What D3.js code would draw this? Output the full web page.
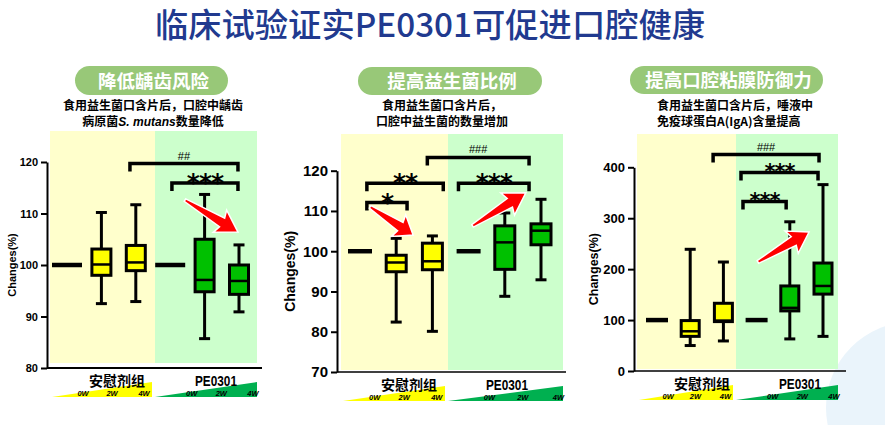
<!DOCTYPE html>
<html>
<head>
<meta charset="utf-8">
<script src="https://cdnjs.cloudflare.com/ajax/libs/d3/7.8.5/d3.min.js"></script>
<style>
  body { margin: 0; background: #fff; }
  svg { display: block; }
  .cjk { font-family: "Noto Sans CJK SC", sans-serif; }
  .num { font-family: "Liberation Sans", Arial, sans-serif; font-weight: bold; }
  .axis path, .axis line { stroke: #000; }
  .axis text { font-family: "Liberation Sans", Arial, sans-serif; font-weight: bold; fill: #000; }
</style>
</head>
<body>
<div id="chart"></div>
<script>
// ---------- data ----------
var mainTitle = "临床试验证实PE0301可促进口腔健康";
var groups = ["安慰剂组", "PE0301"];
var weeks = ["0W", "2W", "4W"];
var yLabel = "Changes(%)";

// box stats per column: [min, q1, median, q3, max]
var cariesBoxes = [
  [100, 100, 100, 100, 100],
  [92.5, 98.0, 100.1, 103.1, 110.2],
  [92.9, 98.9, 100.5, 103.8, 111.7],
  [100, 100, 100, 100, 100],
  [85.7, 94.8, 97.1, 105.0, 113.7],
  [90.9, 94.3, 96.9, 100.0, 103.9]
];
var probioticBoxes = [
  [100, 100, 100, 100, 100],
  [82.4, 94.9, 97.2, 99.0, 103.2],
  [80.1, 95.4, 97.5, 102.0, 103.8],
  [100, 100, 100, 100, 100],
  [88.8, 95.5, 102.2, 106.3, 109.5],
  [92.9, 101.6, 105.1, 106.8, 112.9]
];
var igaBoxes = [
  [100, 100, 100, 100, 100],
  [50, 68, 78, 99, 239],
  [59, 97, 99, 133, 214],
  [100, 100, 100, 100, 100],
  [63, 118, 124, 167, 293],
  [68, 151, 167, 212, 366]
];

var cariesTicks = [80, 90, 100, 110, 120];
var probioticTicks = [70, 80, 90, 100, 110, 120];
var igaTicks = [0, 100, 200, 300, 400];

// significance brackets: column positions and level in data units
var cariesMarks = [
  { from: 1.83, to: 4.97, level: 119.7, label: "##" },
  { from: 3.05, to: 4.97, level: 115.9, label: "***" }
];
var probioticMarks = [
  { from: 0.19, to: 1.3, level: 112.1, label: "*" },
  { from: 0.19, to: 2.3, level: 116.9, label: "**" },
  { from: 1.86, to: 4.67, level: 123.3, label: "###" },
  { from: 2.72, to: 4.67, level: 116.9, label: "***" }
];
var igaMarks = [
  { from: 1.69, to: 4.88, level: 425, label: "###" },
  { from: 2.53, to: 4.85, level: 390, label: "***" },
  { from: 2.59, to: 3.89, level: 333, label: "***" }
];

// red trend arrows: [fromCol, fromValue, toCol, toValue]
var cariesArrows = [[3.43, 112.6, 4.97, 106.4]];
var probioticArrows = [[0.28, 111.0, 1.47, 104.0], [3.11, 106.3, 4.58, 114.5]];
var igaArrows = [[3.04, 214, 4.58, 273]];

var cariesTitle = "降低龋齿风险";
var probioticTitle = "提高益生菌比例";
var igaTitle = "提高口腔粘膜防御力";
var cariesSub = [[["食用益生菌口含片后，口腔中龋齿", false]], [["病原菌", false], ["S.  mutans", true], ["数量降低", false]]];
var probioticSub = [[["食用益生菌口含片后，", false]], [["口腔中益生菌的数量增加", false]]];
var igaSub = [[["食用益生菌口含片后，唾液中", false]], [["免疫球蛋白A(IgA)含量提高", false]]];

// ---------- layout ----------
var panels = [
  { title: cariesTitle, sub: cariesSub, boxes: cariesBoxes, ticks: cariesTicks, marks: cariesMarks, arrows: cariesArrows,
    pill: [75, 228, 66, 95], subX: 153, subAnchor: "middle",
    axisX: 47, bg: [50, 155, 257], bgTop: 131, bgBottom: 363, yPx: [368, 162], xEnd: 262,
    cols: [67, 239], boxW: 19, zeroW: 30, tickFont: 11, labelFont: 11, labelX: 12, axisW: 2, xAxisW: 2,
    groupX: [117, 216], starFont: 25, hashFont: 11 },
  { title: probioticTitle, sub: probioticSub, boxes: probioticBoxes, ticks: probioticTicks, marks: probioticMarks, arrows: probioticArrows,
    pill: [358, 542, 67, 95], subX: 442, subAnchor: "middle",
    axisX: 337, bg: [341, 448, 563], bgTop: 134, bgBottom: 370, yPx: [372, 170.7], xEnd: 566,
    cols: [360, 541], boxW: 20, zeroW: 24, tickFont: 15, labelFont: 14, labelX: 290, axisW: 2, xAxisW: 1.5,
    groupX: [409, 507], starFont: 25, hashFont: 11 },
  { title: igaTitle, sub: igaSub, boxes: igaBoxes, ticks: igaTicks, marks: igaMarks, arrows: igaArrows,
    pill: [630, 823, 66, 94], subX: 657, subAnchor: "start",
    axisX: 634, bg: [637, 736, 838], bgTop: 134, bgBottom: 369, yPx: [371, 167.3], xEnd: 846,
    cols: [657, 823], boxW: 18, zeroW: 22, tickFont: 13, labelFont: 12.5, labelX: 594, axisW: 2, xAxisW: 1.5,
    groupX: [702, 800], starFont: 21, hashFont: 11 }
];

var W = 885, H = 425;
var svg = d3.select("#chart").append("svg").attr("width", W).attr("height", H);

// faint watermark circle bottom right
svg.append("circle").attr("cx", 912).attr("cy", 408).attr("r", 86).style("fill", "#eaf4fb");

svg.append("text")
  .attr("class", "cjk")
  .attr("x", 430).attr("y", 37)
  .attr("text-anchor", "middle")
  .attr("textLength", 550).attr("lengthAdjust", "spacingAndGlyphs")
  .style("font-size", "33px").style("font-weight", 500).style("fill", "#213a8f")
  .text(mainTitle);

panels.forEach(drawPanel);

function drawPanel(p) {
  var g = svg.append("g");
  var y = d3.scaleLinear().domain(d3.extent(p.ticks)).range(p.yPx);
  var x = d3.scaleLinear().domain([0, 5]).range(p.cols);

  // header pill
  var ph = p.pill[3] - p.pill[2];
  g.append("rect").attr("x", p.pill[0]).attr("y", p.pill[2])
    .attr("width", p.pill[1] - p.pill[0]).attr("height", ph)
    .attr("rx", ph / 2).style("fill", "#98c878");
  g.append("text").attr("class", "cjk")
    .attr("x", (p.pill[0] + p.pill[1]) / 2 + 2).attr("y", p.pill[2] + ph / 2 + 7)
    .attr("text-anchor", "middle")
    .style("font-size", "18.5px").style("font-weight", "bold").style("fill", "#fff")
    .text(p.title);

  // subtitle lines
  p.sub.forEach(function(line, i) {
    var t = g.append("text").attr("class", "cjk")
      .attr("x", p.subX).attr("y", 110 + i * 16)
      .attr("text-anchor", p.subAnchor)
      .style("font-size", "12px").style("font-weight", "bold").style("fill", "#000");
    line.forEach(function(seg) {
      t.append("tspan")
        .style("font-style", seg[1] ? "italic" : "normal")
        .style("font-family", seg[1] ? "'Liberation Sans', Arial, sans-serif" : null)
        .text(seg[0]);
    });
  });

  // backgrounds
  g.append("rect").attr("x", p.bg[0]).attr("y", p.bgTop)
    .attr("width", p.bg[1] - p.bg[0]).attr("height", p.bgBottom - p.bgTop).style("fill", "#ffffcc");
  g.append("rect").attr("x", p.bg[1]).attr("y", p.bgTop)
    .attr("width", p.bg[2] - p.bg[1]).attr("height", p.bgBottom - p.bgTop).style("fill", "#ccffcc");

  // y axis
  var ax = g.append("g").attr("class", "axis")
    .attr("transform", "translate(" + p.axisX + ",0)")
    .call(d3.axisLeft(y).tickValues(p.ticks).tickSize(6).tickSizeOuter(0).tickPadding(3));
  ax.selectAll("path, line").style("stroke-width", p.axisW);
  ax.selectAll("text").style("font-size", p.tickFont + "px");

  g.append("text").attr("class", "num")
    .attr("transform", "translate(" + p.labelX + "," + ((p.yPx[0] + p.yPx[1]) / 2) + ") rotate(-90)")
    .attr("text-anchor", "middle").attr("dy", "0.35em")
    .style("font-size", p.labelFont + "px")
    .text(yLabel);

  // x axis line
  g.append("line").attr("x1", p.axisX).attr("x2", p.xEnd)
    .attr("y1", p.yPx[0]).attr("y2", p.yPx[0])
    .style("stroke", "#000").style("stroke-width", p.xAxisW);

  // boxes
  p.boxes.forEach(function(b, i) {
    var cx = x(i);
    var fill = i < 3 ? "#ffff00" : "#00c000";
    if (b[0] === b[4]) {
      g.append("line").attr("x1", cx - p.zeroW / 2).attr("x2", cx + p.zeroW / 2)
        .attr("y1", y(b[2])).attr("y2", y(b[2]))
        .style("stroke", "#000").style("stroke-width", 4.5);
      return;
    }
    var bw = p.boxW, cap = 11;
    g.append("line").attr("x1", cx).attr("x2", cx).attr("y1", y(b[4])).attr("y2", y(b[0]))
      .style("stroke", "#000").style("stroke-width", 3);
    [b[0], b[4]].forEach(function(v) {
      g.append("line").attr("x1", cx - cap / 2).attr("x2", cx + cap / 2).attr("y1", y(v)).attr("y2", y(v))
        .style("stroke", "#000").style("stroke-width", 3);
    });
    g.append("rect").attr("x", cx - bw / 2).attr("y", y(b[3]))
      .attr("width", bw).attr("height", y(b[1]) - y(b[3]))
      .style("fill", fill).style("stroke", "#000").style("stroke-width", 3);
    g.append("line").attr("x1", cx - bw / 2).attr("x2", cx + bw / 2).attr("y1", y(b[2])).attr("y2", y(b[2]))
      .style("stroke", "#000").style("stroke-width", 2.5);
  });

  // significance brackets
  p.marks.forEach(function(m) {
    var yl = y(m.level), x0 = x(m.from), x1 = x(m.to), leg = 8;
    g.append("path")
      .attr("d", "M" + x0 + "," + (yl + leg) + "V" + yl + "H" + x1 + "V" + (yl + leg))
      .style("fill", "none").style("stroke", "#000").style("stroke-width", 3.5);
    var star = m.label.indexOf("*") >= 0;
    g.append("text")
      .attr("x", (x0 + x1) / 2).attr("y", star ? yl + p.starFont * 0.33 : yl - 4)
      .attr("text-anchor", "middle")
      .style("font-family", star ? "'DejaVu Sans', sans-serif" : "'Liberation Sans', Arial, sans-serif")
      .style("font-size", (star ? p.starFont : p.hashFont) + "px")
      .style("font-weight", star ? "bold" : "normal")
      .style("letter-spacing", star ? "-1px" : null)
      .text(m.label);
  });

  // red arrows
  p.arrows.forEach(function(a) {
    var x0 = x(a[0]), y0 = y(a[1]), x1 = x(a[2]), y1 = y(a[3]);
    var dx = x1 - x0, dy = y1 - y0, L = Math.sqrt(dx * dx + dy * dy);
    var ux = dx / L, uy = dy / L, nx = -uy, ny = ux;
    var shape = [[0, -1.5], [0.7, -5], [0.66, -13], [1, 0], [0.66, 13], [0.7, 5], [0, 1.5]];
    var pts = shape.map(function(s) {
      return [x0 + ux * s[0] * L + nx * s[1], y0 + uy * s[0] * L + ny * s[1]];
    });
    g.append("path").attr("d", d3.line()(pts) + "Z")
      .style("fill", "#ff0000").style("stroke", "#fff").style("stroke-width", 1.5)
      .style("stroke-linejoin", "miter");
  });

  // group triangles and labels
  var axisY = p.yPx[0];
  var tri = [[p.bg[0] + 2, p.bg[1] - 3, "#ffff00", [0.31, 0.6, 0.92]], [p.bg[1], p.bg[2], "#00b050", [0.36, 0.65, 0.96]]];
  tri.forEach(function(t, gi) {
    g.append("path")
      .attr("d", "M" + t[0] + "," + (axisY + 29) + "L" + t[1] + "," + (axisY + 29) + "L" + t[1] + "," + (axisY + 14) + "Z")
      .style("fill", t[2]);
    weeks.forEach(function(w, wi) {
      g.append("text").attr("class", "num")
        .attr("x", t[0] + (t[1] - t[0]) * t[3][wi]).attr("y", axisY + 28)
        .attr("text-anchor", "middle")
        .style("font-size", "7.5px").style("font-style", "italic")
        .text(w);
    });
  });
  g.append("text").attr("class", "cjk")
    .attr("x", p.groupX[0]).attr("y", axisY + 18)
    .attr("text-anchor", "middle")
    .style("font-size", "14px").style("font-weight", "bold")
    .text(groups[0]);
  g.append("text").attr("class", "num")
    .attr("x", p.groupX[1]).attr("y", axisY + 18)
    .attr("text-anchor", "middle")
    .attr("textLength", 42).attr("lengthAdjust", "spacingAndGlyphs")
    .style("font-size", "14px")
    .text(groups[1]);
}
</script>
</body>
</html>
